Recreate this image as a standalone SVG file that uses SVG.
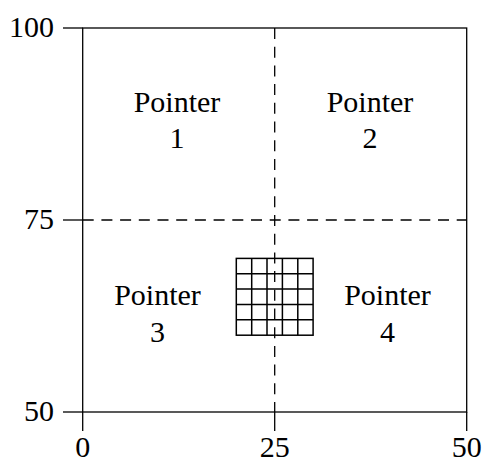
<svg xmlns="http://www.w3.org/2000/svg" width="484" height="463" viewBox="0 0 484 463">
<style>
.ln{stroke:#000;stroke-width:1.3;fill:none}
.dash{stroke:#000;stroke-width:1.3;fill:none;stroke-dasharray:11 7.7}
.grid{stroke:#000;stroke-width:1.5;fill:none}
text{font-family:'Liberation Serif','Times New Roman',serif;font-size:30px;fill:#000}
.c{text-anchor:middle}
.r{text-anchor:end}
</style>
<rect width="484" height="463" fill="#fff"/>
<g id="axes">
<rect class="ln" x="82.7" y="28" width="384" height="384"/>
<line class="ln" x1="63" y1="28" x2="82.7" y2="28"/>
<line class="ln" x1="63" y1="220" x2="82.7" y2="220"/>
<line class="ln" x1="63" y1="412" x2="82.7" y2="412"/>
<line class="ln" x1="82.7" y1="412" x2="82.7" y2="431"/>
<line class="ln" x1="274.7" y1="412" x2="274.7" y2="431"/>
<line class="ln" x1="466.7" y1="412" x2="466.7" y2="431"/>
<text class="r" x="54" y="37">100</text>
<text class="r" x="54" y="229">75</text>
<text class="r" x="54" y="421">50</text>
<text class="c" x="82.7" y="456.5">0</text>
<text class="c" x="274.7" y="456.5">25</text>
<text class="c" x="466.7" y="456.5">50</text>
</g>
<g id="connectors">
<line class="dash" x1="274.7" y1="28" x2="274.7" y2="412"/>
<line class="dash" x1="82.7" y1="220" x2="466.7" y2="220"/>
</g>
<g id="grid">
<rect class="grid" x="236.3" y="258.4" width="76.8" height="76.8"/>
<path class="grid" d="M251.7 258.4V335.2M267 258.4V335.2M282.4 258.4V335.2M297.8 258.4V335.2M236.3 273.8H313.1M236.3 289.1H313.1M236.3 304.5H313.1M236.3 319.8H313.1"/>
</g>
<g id="pointer1"><text class="c" x="177" y="112">Pointer</text><text class="c" x="177" y="148">1</text></g>
<g id="pointer2"><text class="c" x="370" y="112">Pointer</text><text class="c" x="370" y="148">2</text></g>
<g id="pointer3"><text class="c" x="157.5" y="305">Pointer</text><text class="c" x="157.5" y="341.5">3</text></g>
<g id="pointer4"><text class="c" x="387.5" y="305">Pointer</text><text class="c" x="387.5" y="341.5">4</text></g>
</svg>
